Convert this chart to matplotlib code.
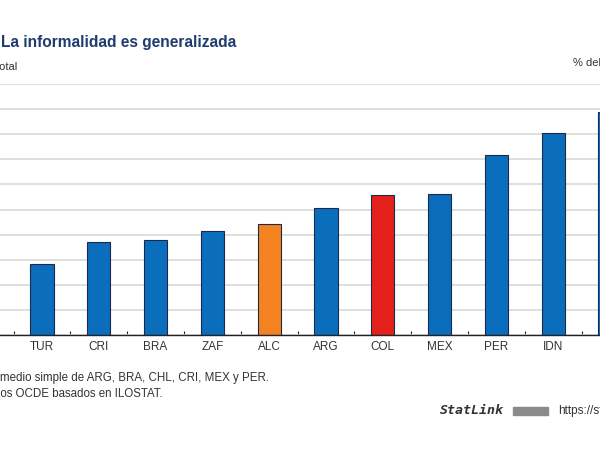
import matplotlib.pyplot as plt
import matplotlib.patches as mpatches
import numpy as np

# data (% of total employment)
paises = ["TUR", "CRI", "BRA", "ZAF", "ALC", "ARG", "COL", "MEX", "PER", "IDN", "IND"]
valores = [28.2, 37.1, 37.8, 41.3, 44.1, 50.5, 55.8, 56.3, 71.7, 80.3, 89.0]
colores = ["#0a6ebd"] * 4 + ["#f58220"] + ["#0a6ebd"] + ["#e3201b"] + ["#0a6ebd"] * 4

W, H = 600, 450
fig = plt.figure(figsize=(6, 4.5), dpi=100)
plt.rcParams['font.family'] = ['Liberation Sans', 'DejaVu Sans']

# axes is wider than the figure: the original chart is cropped on both sides
x0, dx = 42, 56.8          # centre of first bar and bar spacing, pixels
xmin, xmax = -1.2, 11.0
left_px = x0 + dx * xmin
right_px = x0 + dx * xmax
base_px, top_px = 335, 84
ax = fig.add_axes([left_px / W, (H - base_px) / H,
                   (right_px - left_px) / W, (base_px - top_px) / H])

x = np.arange(len(paises))
ax.bar(x, valores, width=0.41, color=colores, edgecolor="#1b2a4a", linewidth=0.8, zorder=3)
ax.set_xlim(xmin, xmax)
ax.set_ylim(0, 100)
ax.set_yticks(np.arange(0, 101, 10))
ax.yaxis.grid(True, color="#dcdcdc", linewidth=1.3, zorder=0)
ax.tick_params(axis='y', left=False, labelleft=False)
for s in ["left", "right", "top"]:
    ax.spines[s].set_visible(False)
ax.spines["bottom"].set_color("#222222")
ax.spines["bottom"].set_linewidth(1.0)
ax.spines["bottom"].set_zorder(4)

ax.set_xticks(x)
ax.set_xticklabels(paises, fontsize=8.5, color="#333333")
ax.tick_params(axis='x', which='major', length=0, pad=4)
ax.set_xticks(np.arange(-0.5, len(paises), 1), minor=True)
ax.tick_params(axis='x', which='minor', length=3, width=0.8, color="#222222", direction='in')

renderer = fig.canvas.get_renderer()


def cut_text(vis_x, y, full, prefix, **kw):
    # put text so that the part after prefix starts at pixel vis_x
    t = fig.text(0, 0, prefix, **kw)
    w = t.get_window_extent(renderer).width
    t.remove()
    fig.text((vis_x - w) / W, 1 - y / H, full, va='center', **kw)


fig.text(1 / W, 1 - 42 / H, "La informalidad es generalizada", fontsize=11.2,
         fontweight='bold', color="#1f3c6e", va='center')
cut_text(-1, 67, "% del empleo total", "% del empleo t", fontsize=8, color="#333333")
fig.text(573 / W, 1 - 63 / H, "% del empleo total", fontsize=8, color="#333333", va='center')

cut_text(0, 378, "Nota: ALC es el promedio simple de ARG, BRA, CHL, CRI, MEX y PER.",
         "Nota: ALC es el pro", fontsize=8.3, color="#333333")
cut_text(0, 394, "Fuente: Cálculos OCDE basados en ILOSTAT.",
         "Fuente: Cálcul", fontsize=8.3, color="#333333")

fig.text(440 / W, 1 - 411 / H, "StatLink", fontsize=9.5, fontweight='bold', style='italic',
         family='DejaVu Sans Mono', color="#333333", va='center')
fig.patches.append(mpatches.Rectangle((513 / W, 1 - 415 / H), 35 / W, 8 / H,
                                      transform=fig.transFigure, color="#8a8a8a"))
fig.text(558 / W, 1 - 411 / H, "https://stat.link/", fontsize=8.5, color="#333333", va='center')

fig.savefig("out.png", dpi=100)
